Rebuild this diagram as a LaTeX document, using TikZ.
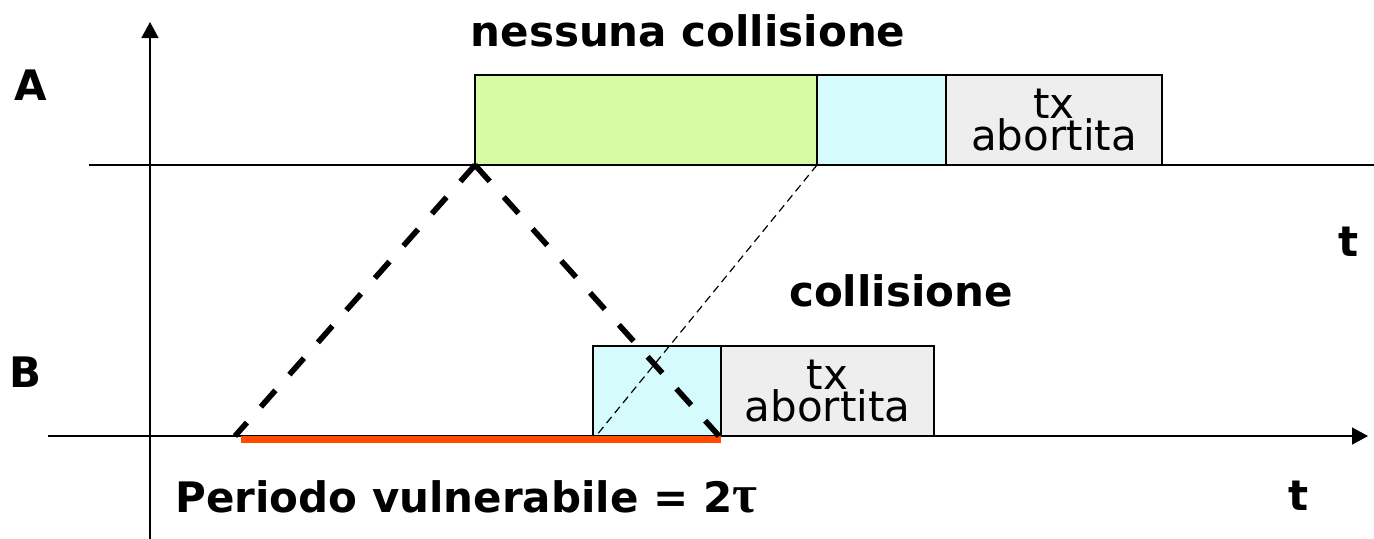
\documentclass[tikz,border=0pt]{standalone}
\usepackage{fontspec}
\setmainfont{DejaVu Sans}
\newfontfamily\taufont{Liberation Serif}
\usetikzlibrary{arrows.meta}
\definecolor{boxgreen}{HTML}{D5FBA4}
\definecolor{boxcyan}{HTML}{D5FBFC}
\definecolor{boxgrey}{HTML}{EEEEEE}
\definecolor{vulnorange}{HTML}{FF4A00}
\tikzset{
  axis/.style={line width=0.8pt},
  axisarrow/.style={axis,-{Triangle[length=8pt,width=8.5pt]}},
  slot/.style={draw,line width=0.8pt,minimum height=45pt,inner sep=0pt,anchor=south west,outer sep=0pt},
  abortbox/.style={slot,fill=boxgrey,align=center,font=\fontsize{21}{16}\selectfont},
  lbl/.style={font=\fontsize{21}{25}\selectfont\bfseries,inner sep=0pt,anchor=base},
  propagation/.style={line width=2.8pt,dash pattern=on 11pt off 10.5pt},
  thindash/.style={line width=0.6pt,dash pattern=on 4pt off 2.5pt},
}
\begin{document}
\begin{tikzpicture}[x=0.5pt,y=-0.5pt]
\useasboundingbox (0,0) rectangle (1374,538);
% axes
\coordinate (vbot) at (150,540);
\coordinate (vtop) at (150,22);
\coordinate (aleft) at (89,165);
\coordinate (aright) at (1376,165);
\coordinate (bleft) at (48,436);
\coordinate (bright) at (1368,436);
\draw[axisarrow] (vbot) -- (vtop);
\draw[axis] (aleft) -- (aright);
\draw[axisarrow] (bleft) -- (bright);
% station A boxes
\node[slot,fill=boxgreen,minimum width=171pt] (agreen) at (475,165) {};
\node[slot,fill=boxcyan,minimum width=64.5pt] (acyan) at (agreen.south east) {};
\node[abortbox,minimum width=108pt] (agrey) at (acyan.south east) {tx\\abortita};
% station B boxes
\node[slot,fill=boxcyan,minimum width=64pt] (bcyan) at (593,436) {};
\node[abortbox,minimum width=106.5pt] (bgrey) at (bcyan.south east) {tx\\abortita};
% vulnerable period
\coordinate (vstart) at (241,439.5);
\coordinate (vend) at (721,439.5);
\draw[vulnorange,line width=3.5pt] (vstart) -- (vend);
% propagation lines
\coordinate (pstart) at (235,436);
\coordinate (pend) at (719,436);
\draw[propagation] (agreen.south west) -- (pstart);
\draw[propagation] (agreen.south west) -- (pend);
\coordinate (cend) at (596,436);
\draw[thindash] (agreen.south east) -- (cend);
% labels
\node[lbl] (labA) at (31,100) {A};
\node[lbl] (labB) at (26,387) {B};
\node[lbl] (tA) at (1349,256) {t};
\node[lbl] (tB) at (1299,510) {t};
\node[lbl] (nocoll) at (688,46) {nessuna collisione};
\node[lbl] (coll) at (901,306) {collisione};
\node[lbl,anchor=base west] (vuln) at (175,512) {Periodo vulnerabile = 2{\taufont\fontsize{27}{27}\selectfont τ}};
\end{tikzpicture}
\end{document}
